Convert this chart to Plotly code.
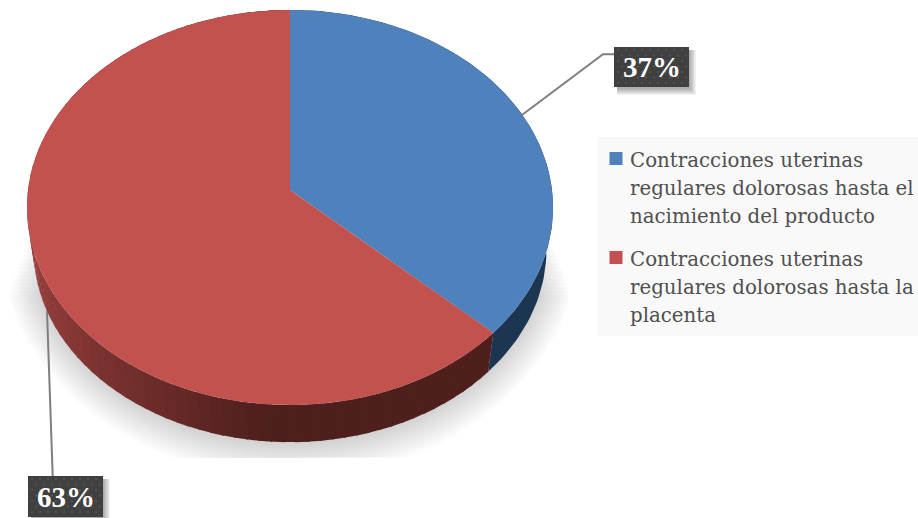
import numpy as np
import plotly.graph_objects as go

# ---- data ----
category_lines = [
    ["Contracciones uterinas", "regulares dolorosas hasta el", "nacimiento del producto"],
    ["Contracciones uterinas", "regulares dolorosas hasta la", "placenta"],
]
values = [37, 63]
value_labels = ["37%", "63%"]

# ---- style / layout ----
W, H = 918, 518
BLUE, RED = "#4f81bd", "#c3524f"
BLUE_SIDE = "#1c3550"
FONT = "Liberation Serif"
LEGEND_FONT = "DejaVu Serif"
CX, CY, A, B, P = 290.0, 190.0, 262.0, 196.0, 0.0886   # projected disc
SIDE_SCALE, SIDE_CY = 0.975, 232.5


def project(theta, scale=1.0, cy=CY):
    """Clockwise-from-top angle (deg) on a unit disc -> tilted disc position."""
    t = np.radians(theta)
    X, Y = np.sin(t), np.cos(t)
    d = 1 + P * Y
    return CX + scale * A * X / d, cy - scale * B * Y / d


def lerp_hex(stops, x):
    xs = [s[0] for s in stops]
    rgb = [np.interp(x, xs, [s[1][i] for s in stops]) for i in range(3)]
    return "rgb(%d,%d,%d)" % tuple(int(round(v)) for v in rgb)


RED_SIDE_STOPS = [(35, (146, 60, 58)), (100, (122, 50, 48)), (200, (94, 38, 36)), (265, (78, 31, 29))]

fracs = np.array(values, dtype=float) / sum(values)
edges = np.concatenate([[0], np.cumsum(fracs) * 360])
mids = (edges[:-1] + edges[1:]) / 2

fig = go.Figure()


def poly(x, y, color, opacity=1.0):
    fig.add_trace(go.Scatter(x=list(x), y=list(y), mode="lines", fill="toself", fillcolor=color,
                             line=dict(width=0, color=color), opacity=opacity,
                             hoverinfo="skip", showlegend=False))


def line(x, y):
    fig.add_trace(go.Scatter(x=x, y=y, mode="lines", line=dict(color="#7f7f7f", width=2),
                             hoverinfo="skip", showlegend=False))


# soft ground shadow, clipped to the plot frame
n_layers = 16
for i in range(n_layers):
    f = i / (n_layers - 1)
    t = np.radians(np.linspace(0, 360, 241))
    rx, ry = 290 - 32 * f, 238 - 36 * f
    sx = np.clip(290 + rx * np.sin(t), 10, 568)
    sy = np.clip(240 + ry * np.cos(t), 235 + 60 * (1 - f), 458)
    poly(sx, sy, "#000000", 0.013)

# leader lines (partly hidden by the disc side)
ax0, ay0 = project(mids[0])
line([ax0, 603, 614], [ay0, 54.3, 54.3])
ax1, ay1 = project(mids[1], SIDE_SCALE, SIDE_CY)
line([ax1, 52.7], [ay1, 476])

# disc side: blue part
th = np.linspace(edges[0], edges[1], 90)
x1, y1 = project(th)
x2, y2 = project(th[::-1], SIDE_SCALE, SIDE_CY)
poly(np.r_[x1, x2], np.r_[y1, y2], BLUE_SIDE)

# disc side: red part, shaded in steps along the rim
seg = np.linspace(edges[1], edges[2], 91)
for a0, a1 in zip(seg[:-1], seg[1:]):
    th = np.array([a0, (a0 + a1) / 2, a1 + 0.4])
    x1, y1 = project(th)
    x2, y2 = project(th[::-1], SIDE_SCALE, SIDE_CY)
    poly(np.r_[x1, x2], np.r_[y1, y2], lerp_hex(RED_SIDE_STOPS, x1.mean()))

# disc top
for a0, a1, c in zip(edges[:-1], edges[1:], [BLUE, RED]):
    th = np.linspace(a0, a1, 200)
    x1, y1 = project(th)
    poly(np.r_[CX, x1, CX], np.r_[CY, y1, CY], c)

# data label boxes
boxes = [(614, 689, 47, 87), (28, 103, 476, 517)]
annotations = []
for (x0, x1, y0, y1), lab in zip(boxes, value_labels):
    for k in range(7, 0, -1):
        poly([x0 + 3, x1 + k, x1 + k, x0 + 3, x0 + 3],
             [y0 + 3, y0 + 3, y1 + k + 1, y1 + k + 1, y0 + 3], "#000000", 0.05)
    poly([x0, x1, x1, x0, x0], [y0, y0, y1, y1, y0], "#404040")
    gx, gy = [], []
    for r, yy in enumerate(np.arange(y0 + 3, y1, 5.5)):
        for xx in np.arange(x0 + 4 + (r % 2) * 4, x1 - 1, 8):
            gx.append(xx)
            gy.append(yy)
    fig.add_trace(go.Scatter(x=gx, y=gy, mode="markers", hoverinfo="skip", showlegend=False,
                             marker=dict(size=2.2, color="#565656", line=dict(width=0))))
    annotations.append(dict(x=(x0 + x1) / 2, y=(y0 + y1) / 2, text="<b>%s</b>" % lab, showarrow=False,
                            xref="x", yref="y", font=dict(family=FONT, size=29, color="#ffffff")))

# legend: swatch on the first line, wrapped label lines below it
LEGEND_Y = [(160, 188, 216), (259, 287, 315)]
for lines, ys, c in zip(category_lines, LEGEND_Y, [BLUE, RED]):
    fig.add_trace(go.Scatter(x=[616], y=[ys[0] - 1.5], mode="markers", hoverinfo="skip", showlegend=False,
                             marker=dict(symbol="square", size=13, color=c, line=dict(width=0))))
    for txt, yy in zip(lines, ys):
        annotations.append(dict(x=627.5, y=yy, text=txt, showarrow=False, xref="x", yref="y",
                                xanchor="left", yanchor="middle",
                                font=dict(family=LEGEND_FONT, size=19.8, color="#505050")))

fig.update_layout(
    width=W, height=H, autosize=False,
    margin=dict(l=0, r=0, t=0, b=0),
    showlegend=False,
    paper_bgcolor="#ffffff", plot_bgcolor="#ffffff",
    xaxis=dict(range=[0, W], visible=False, fixedrange=True),
    yaxis=dict(range=[H, 0], visible=False, fixedrange=True),
    shapes=[dict(type="rect", xref="x", yref="y", x0=597, x1=918, y0=137, y1=336,
                 fillcolor="#f9f9f9", line=dict(width=0), layer="below")],
    annotations=annotations,
)
fig.write_html("out.html", config=dict(displayModeBar=False),
               post_script="document.body.style.margin='0';document.body.style.overflow='hidden';")
